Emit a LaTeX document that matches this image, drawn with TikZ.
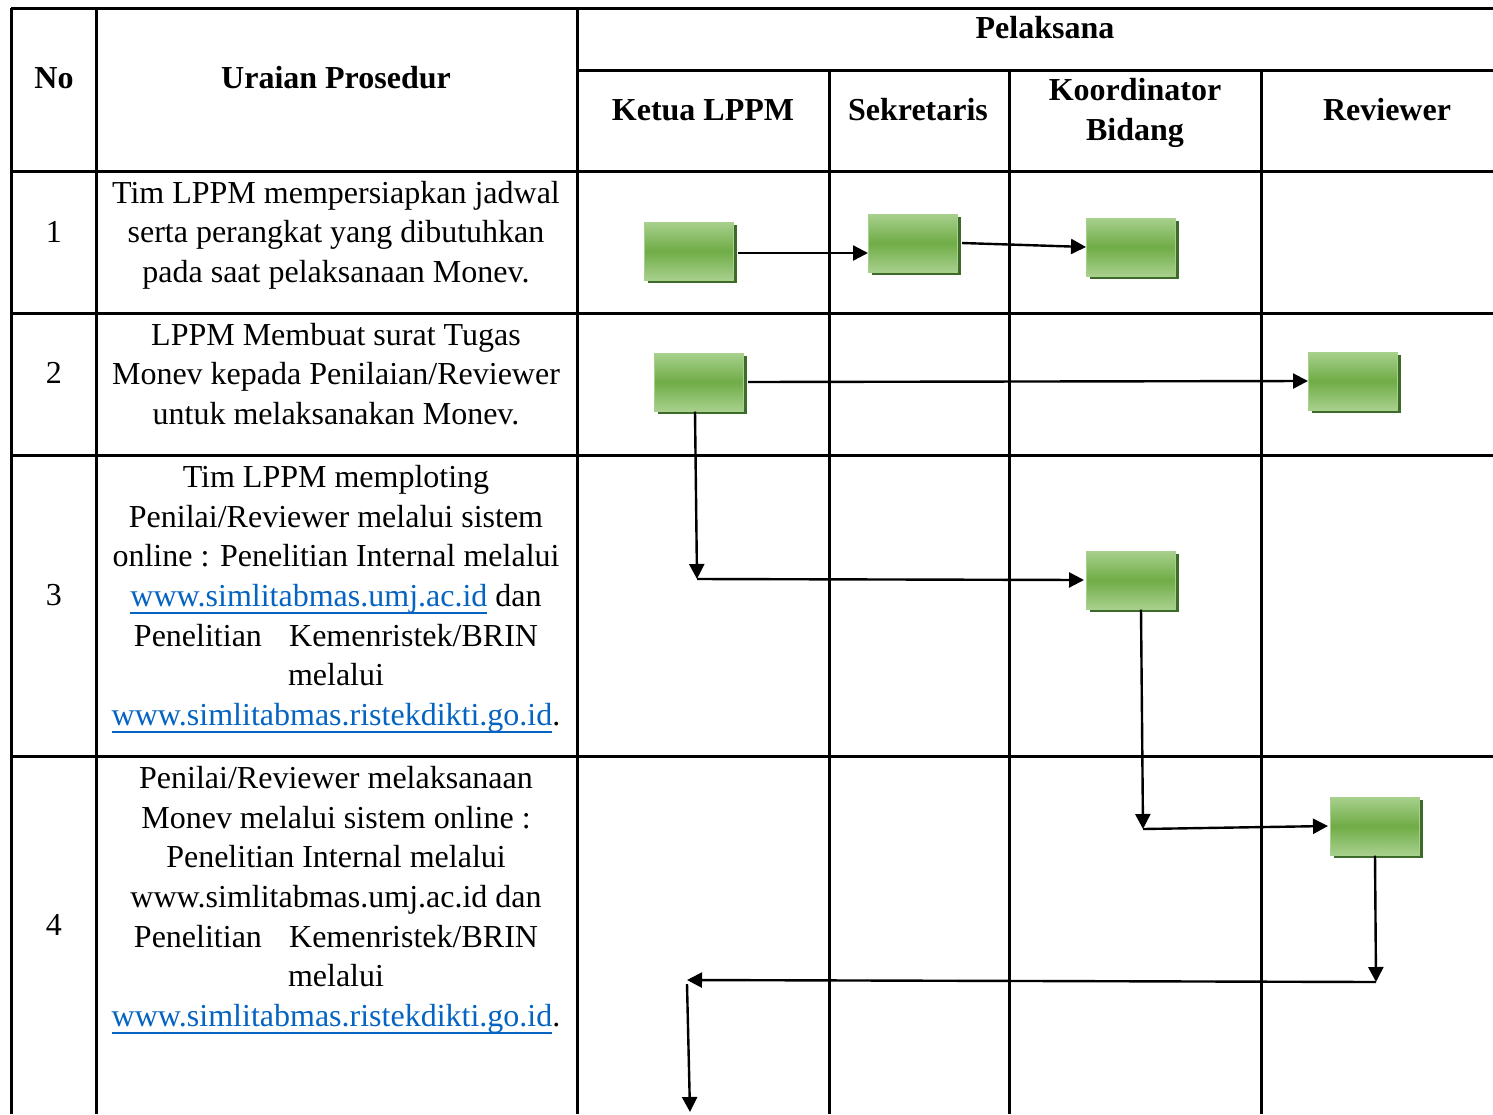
\documentclass[tikz,border=0pt]{standalone}
\usepackage{fontspec}
\setmainfont{Liberation Serif}
\usetikzlibrary{arrows.meta,shadows}
\definecolor{lnk}{HTML}{0563C1}
\definecolor{grnlt}{HTML}{A8D08D}
\definecolor{grnmd}{HTML}{6FAC46}
\definecolor{grndk}{HTML}{3D6B2A}
\newcommand{\lnk}[1]{\textcolor{lnk}{\setbox0\hbox{#1}\rlap{\rule[-3.6pt]{\wd0}{0.9pt}}\box0}}
\begin{document}
\begin{tikzpicture}[x=0.5pt, y=-0.5pt, >={Triangle[length=7.5pt,width=7.5pt]},
          font=\fontsize{16}{19.85}\selectfont,
          grid/.style={line width=1.5pt},
          hd/.style={font=\fontsize{16}{19.85}\selectfont\bfseries, align=center, inner sep=0pt},
          txt/.style={align=center, inner sep=0pt},
          box/.style={rectangle, minimum width=44.5pt, minimum height=29pt, inner sep=0pt,
            draw=grnlt, line width=0.5pt, top color=grnlt, bottom color=grnlt, middle color=grnmd,
            drop shadow={shadow xshift=1.6pt, shadow yshift=-1.6pt, fill=grndk, opacity=1}},
          arr/.style={->, line width=1.2pt}]
        \useasboundingbox (0,0) rectangle (1493,1114);
        % table
        \draw[grid] (11,8) -- (1493,8);
        \draw[grid] (577,70) -- (1493,70);
        \foreach \y in {171,313,455,756} \draw[grid] (11,\y) -- (1493,\y);
        \foreach \x in {11,96,577} \draw[grid] (\x,8) -- (\x,1114);
        \foreach \x in {829,1009,1261} \draw[grid] (\x,70) -- (\x,1114);
        % header
        \node[hd] (no) at (54,78) {No};
        \node[hd] (uraian) at (336,78) {Uraian Prosedur};
        \node[hd] (pelaksana) at (1045,28) {Pelaksana};
        \node[hd] (ketua) at (703,110) {Ketua LPPM};
        \node[hd] (sekr) at (918,110) {Sekretaris};
        \node[hd] (koord) at (1135,113) {Koordinator\\Bidang};
        \node[hd] (rev) at (1387,110) {Reviewer};
        % rows
        \node[txt] (n1) at (54,232) {1};
        \node[txt] (n2) at (54,373) {2};
        \node[txt] (n3) at (54,595) {3};
        \node[txt] (n4) at (54,925) {4};
        \node[txt] (t1) at (336,235) {Tim LPPM mempersiapkan jadwal\\serta perangkat yang dibutuhkan\\pada saat pelaksanaan Monev.};
        \node[txt] (t2) at (336,374) {LPPM Membuat surat Tugas\\Monev kepada Penilaian/Reviewer\\untuk melaksanakan Monev.};
        \node[txt] (t3) at (336,599) {Tim LPPM memploting\\Penilai/Reviewer melalui sistem\\online : Penelitian Internal melalui\\\lnk{www.simlitabmas.umj.ac.id} dan\\Penelitian\hspace{0.85em}Kemenristek/BRIN\\melalui\\\lnk{www.simlitabmas.ristekdikti.go.id}.};
        \node[txt] (t4) at (336,900) {Penilai/Reviewer melaksanaan\\Monev melalui sistem online :\\Penelitian Internal melalui\\www.simlitabmas.umj.ac.id dan\\Penelitian\hspace{0.85em}Kemenristek/BRIN\\melalui\\\lnk{www.simlitabmas.ristekdikti.go.id}.};
        % process boxes
        \node[box] (b11) at (689,251) {};
        \node[box] (b12) at (913,243) {};
        \node[box] (b13) at (1131,247) {};
        \node[box] (b21) at (699,382) {};
        \node[box] (b24) at (1353,381) {};
        \node[box] (b33) at (1131,580) {};
        \node[box] (b44) at (1375,826) {};
        \coordinate (c1) at (697,579);
        \coordinate (c2) at (1143,829);
        \coordinate (c3) at (1376,982);
        \coordinate (c4) at (687,980);
        \coordinate (c5) at (690,1112);
        % flow
        \draw[arr] ([xshift=2pt,yshift=-1pt]b11.east) -- ([yshift=-1pt]b12.west |- b11.east);
        \draw[arr] ([xshift=2pt]b12.east) -- (b13.west);
        \draw[arr] ([xshift=2pt]b21.east) -- (b24.west);
        \draw[arr] ([xshift=-2pt]b21.south) -- (c1);
        \draw[arr] (c1) -- ([xshift=-1pt]b33.west);
        \draw[arr] ([xshift=-1pt]b33.south -| c2) -- (c2);
        \draw[arr] (c2) -- ([xshift=-1pt]b44.west);
        \draw[arr] (b44.south) -- (c3);
        \draw[arr] (c3) -- (c4);
        \draw[arr] ([yshift=-2pt]c4) -- (c5);
      \end{tikzpicture}
\end{document}
